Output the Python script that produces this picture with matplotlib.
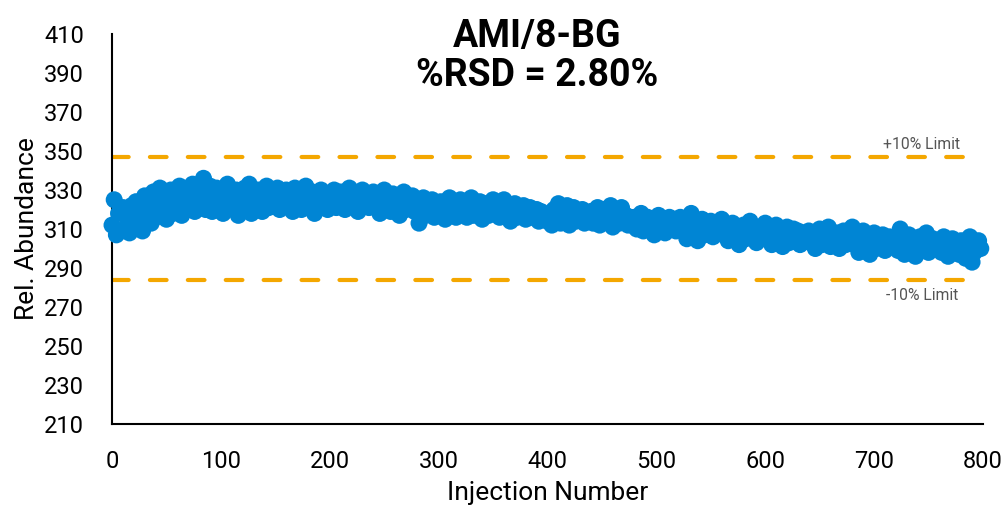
import numpy as np
import matplotlib.pyplot as plt

plt.rcParams['font.family'] = ['Roboto', 'DejaVu Sans']

# Значения (каждая 2-я инъекция, 0..798)
rel_abundance = [
    312, 325, 307, 318, 309, 321, 310, 316, 308, 322, 312, 324, 311, 318, 309, 327, 314, 321, 313, 329,
    316, 324, 331, 319, 326, 315, 322, 330, 318, 327, 321, 332, 317, 325, 329, 320, 324, 333, 319, 327,
    322, 329, 336, 320, 327, 332, 319, 325, 331, 323, 328, 318, 326, 333, 321, 329, 324, 330, 317, 327,
    320, 331, 325, 333, 318, 328, 322, 330, 324, 319, 327, 332, 321, 326, 329, 323, 331, 320, 328, 325,
    330, 322, 327, 319, 331, 324, 328, 320, 326, 332, 321, 325, 329, 318, 327, 323, 330, 322, 326, 320,
    328, 323, 330, 321, 326, 329, 324, 320, 327, 331, 322, 325, 328, 319, 326, 330, 323, 327, 321, 325,
    329, 322, 326, 318, 327, 330, 321, 325, 319, 328, 323, 326, 317, 324, 329, 320, 325, 322, 327, 319,
    324, 313, 321, 326, 317, 322, 319, 325, 316, 321, 318, 324, 320, 315, 323, 326, 318, 322, 316, 321,
    325, 318, 322, 316, 320, 326, 317, 321, 319, 324, 315, 320, 323, 317, 321, 325, 318, 322, 316, 320,
    325, 317, 321, 314, 319, 323, 316, 320, 318, 322, 315, 319, 321, 316, 318, 320, 314, 319, 317, 316,
    314, 318, 312, 320, 315, 323, 313, 319, 316, 322, 312, 317, 321, 314, 318, 315, 320, 313, 317, 316,
    319, 313, 317, 321, 312, 316, 320, 314, 318, 322, 311, 316, 319, 313, 321, 315, 317, 312, 316, 314,
    316, 310, 314, 318, 309, 313, 316, 311, 315, 307, 312, 317, 310, 314, 308, 313, 316, 311, 314, 309,
    312, 316, 309, 314, 305, 311, 318, 308, 313, 304, 310, 315, 307, 312, 309, 314, 306, 311, 308, 313,
    315, 307, 311, 304, 309, 313, 306, 310, 302, 308, 312, 305, 309, 314, 307, 311, 303, 308, 310, 306,
    313, 305, 309, 302, 307, 312, 304, 308, 301, 306, 311, 303, 307, 310, 305, 309, 302, 306, 308, 304,
    309, 303, 306, 300, 305, 310, 302, 307, 304, 311, 301, 306, 303, 308, 300, 305, 309, 302, 306, 304,
    311, 302, 306, 298, 304, 309, 301, 305, 297, 303, 308, 300, 305, 302, 307, 299, 304, 306, 301, 303,
    305, 299, 310, 302, 297, 304, 307, 300, 303, 296, 301, 306, 299, 303, 308, 298, 302, 305, 300, 304,
    303, 298, 306, 300, 296, 302, 305, 299, 301, 297, 304, 300, 295, 303, 306, 293, 298, 302, 304, 300,
]
injection = np.arange(0, 2 * len(rel_abundance), 2)

title_text = 'AMI/8-BG\n%RSD = 2.80%'
upper_label = '+10% Limit'
lower_label = '-10% Limit'

mean_val = np.mean(rel_abundance)
upper_limit = mean_val * 1.10
lower_limit = mean_val * 0.90

blue = '#0085D4'
orange = '#F4A700'

fig = plt.figure(figsize=(10.02, 5.07), dpi=100)
ax = fig.add_axes([0.1118, 0.1637, 0.8692, 0.7692])

# Линии пределов ±10%
for lim in (upper_limit, lower_limit):
    ax.plot([0, 800], [lim, lim], color=orange, linewidth=3,
            linestyle=(0, (4.0, 5.1)), dash_capstyle='round', zorder=2)

ax.scatter(injection, rel_abundance, s=150, color=blue, edgecolors='none',
           zorder=3, clip_on=False)

ax.text(744, upper_limit + 6.2, upper_label, ha='center', va='center',
        fontsize=11.3, color='#555555')
ax.text(744, lower_limit - 8.2, lower_label, ha='center', va='center',
        fontsize=11.3, color='#555555')

ax.set_xlim(0, 800)
ax.set_ylim(210, 410)
ax.set_xticks(np.arange(0, 801, 100))
ax.set_yticks(np.arange(210, 411, 20))
ax.tick_params(axis='both', length=0, labelsize=17)
ax.tick_params(axis='y', pad=20)
ax.tick_params(axis='x', pad=19)

for s in ('top', 'right'):
    ax.spines[s].set_visible(False)
for s in ('left', 'bottom'):
    ax.spines[s].set_linewidth(1.5)
    ax.spines[s].set_color('black')

ax.set_xlabel('Injection Number', fontsize=19, va='center')
ax.set_ylabel('Rel. Abundance', fontsize=19, va='center')
ax.xaxis.set_label_coords(0.5, (424 - 493) / 390)
ax.yaxis.set_label_coords((27 - 112) / 871, 0.5)

fig.text(537 / 1002, 1 - 56 / 507, title_text, ha='center', va='center',
         fontsize=27, fontweight='bold', linespacing=1.1)

fig.savefig('out.png', dpi=100)
